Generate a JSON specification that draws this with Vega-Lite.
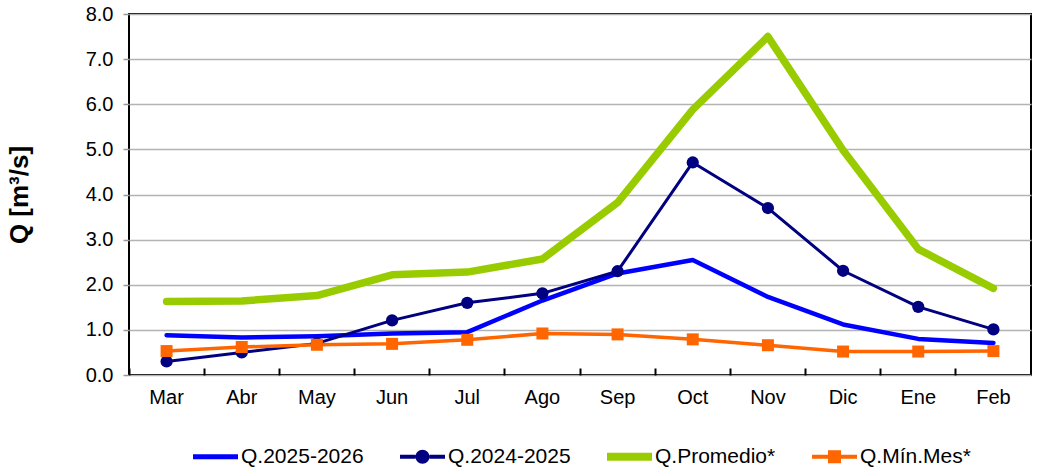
{
  "$schema": "https://vega.github.io/schema/vega-lite/v6.json",
  "width": 902,
  "height": 361,
  "autosize": {"type": "none"},
  "padding": {"left": 129, "top": 14, "right": 9, "bottom": 97},
  "background": "white",
  "config": {
    "font": "Liberation Sans",
    "view": {"stroke": "black", "strokeWidth": 2},
    "axis": {"labelFont": "Liberation Sans", "titleFont": "Liberation Sans", "labelColor": "black", "titleColor": "black"},
    "legend": {"labelFont": "Liberation Sans"}
  },
  "data": {
    "values": [
      {"mes": "Mar", "serie": "Q.2025-2026", "q": 0.88},
      {"mes": "Abr", "serie": "Q.2025-2026", "q": 0.83},
      {"mes": "May", "serie": "Q.2025-2026", "q": 0.86},
      {"mes": "Jun", "serie": "Q.2025-2026", "q": 0.92},
      {"mes": "Jul", "serie": "Q.2025-2026", "q": 0.95},
      {"mes": "Ago", "serie": "Q.2025-2026", "q": 1.65},
      {"mes": "Sep", "serie": "Q.2025-2026", "q": 2.25},
      {"mes": "Oct", "serie": "Q.2025-2026", "q": 2.55},
      {"mes": "Nov", "serie": "Q.2025-2026", "q": 1.73},
      {"mes": "Dic", "serie": "Q.2025-2026", "q": 1.12},
      {"mes": "Ene", "serie": "Q.2025-2026", "q": 0.80},
      {"mes": "Feb", "serie": "Q.2025-2026", "q": 0.71},
      {"mes": "Mar", "serie": "Q.2024-2025", "q": 0.30},
      {"mes": "Abr", "serie": "Q.2024-2025", "q": 0.50},
      {"mes": "May", "serie": "Q.2024-2025", "q": 0.70},
      {"mes": "Jun", "serie": "Q.2024-2025", "q": 1.21},
      {"mes": "Jul", "serie": "Q.2024-2025", "q": 1.60},
      {"mes": "Ago", "serie": "Q.2024-2025", "q": 1.81},
      {"mes": "Sep", "serie": "Q.2024-2025", "q": 2.30},
      {"mes": "Oct", "serie": "Q.2024-2025", "q": 4.71},
      {"mes": "Nov", "serie": "Q.2024-2025", "q": 3.70},
      {"mes": "Dic", "serie": "Q.2024-2025", "q": 2.31},
      {"mes": "Ene", "serie": "Q.2024-2025", "q": 1.51},
      {"mes": "Feb", "serie": "Q.2024-2025", "q": 1.01},
      {"mes": "Mar", "serie": "Q.Promedio*", "q": 1.63},
      {"mes": "Abr", "serie": "Q.Promedio*", "q": 1.64},
      {"mes": "May", "serie": "Q.Promedio*", "q": 1.76},
      {"mes": "Jun", "serie": "Q.Promedio*", "q": 2.22},
      {"mes": "Jul", "serie": "Q.Promedio*", "q": 2.28},
      {"mes": "Ago", "serie": "Q.Promedio*", "q": 2.57},
      {"mes": "Sep", "serie": "Q.Promedio*", "q": 3.82},
      {"mes": "Oct", "serie": "Q.Promedio*", "q": 5.88},
      {"mes": "Nov", "serie": "Q.Promedio*", "q": 7.50},
      {"mes": "Dic", "serie": "Q.Promedio*", "q": 4.98},
      {"mes": "Ene", "serie": "Q.Promedio*", "q": 2.79},
      {"mes": "Feb", "serie": "Q.Promedio*", "q": 1.92},
      {"mes": "Mar", "serie": "Q.Mín.Mes*", "q": 0.53},
      {"mes": "Abr", "serie": "Q.Mín.Mes*", "q": 0.62},
      {"mes": "May", "serie": "Q.Mín.Mes*", "q": 0.67},
      {"mes": "Jun", "serie": "Q.Mín.Mes*", "q": 0.69},
      {"mes": "Jul", "serie": "Q.Mín.Mes*", "q": 0.78},
      {"mes": "Ago", "serie": "Q.Mín.Mes*", "q": 0.92},
      {"mes": "Sep", "serie": "Q.Mín.Mes*", "q": 0.90},
      {"mes": "Oct", "serie": "Q.Mín.Mes*", "q": 0.79},
      {"mes": "Nov", "serie": "Q.Mín.Mes*", "q": 0.66},
      {"mes": "Dic", "serie": "Q.Mín.Mes*", "q": 0.52},
      {"mes": "Ene", "serie": "Q.Mín.Mes*", "q": 0.52},
      {"mes": "Feb", "serie": "Q.Mín.Mes*", "q": 0.53}
    ]
  },
  "encoding": {
    "x": {
      "field": "mes", "type": "nominal", "sort": null,
      "scale": {"type": "band", "domain": ["Mar","Abr","May","Jun","Jul","Ago","Sep","Oct","Nov","Dic","Ene","Feb"], "paddingInner": 0, "paddingOuter": 0},
      "axis": {"title": null, "labelAngle": 0, "labelFontSize": 20, "labelPadding": 19, "tickSize": -7, "tickColor": "black", "tickWidth": 2, "domain": false, "grid": false, "bandPosition": 0}
    },
    "y": {
      "field": "q", "type": "quantitative",
      "scale": {"domain": [0, 8], "nice": false},
      "axis": {"title": "Q [m³/s]", "titleFontSize": 26, "titleFontWeight": "bold", "titlePadding": 53, "values": [0,1,2,3,4,5,6,7,8], "format": ".1f", "labelFontSize": 20, "labelPadding": 10, "tickSize": 6, "tickColor": "#999999", "tickWidth": 1.5, "grid": true, "gridColor": "#b3b3b3", "gridWidth": 1.5, "domain": false}
    }
  },
  "layer": [
    {
      "transform": [{"filter": "datum.q < 0"}],
      "mark": {"type": "point", "filled": true},
      "encoding": {
        "color": {
          "field": "serie", "type": "nominal",
          "scale": {"domain": ["Q.2025-2026","Q.2024-2025","Q.Promedio*","Q.Mín.Mes*"], "range": ["#0000FF","#000080","#99CC00","#FF6600"]},
          "legend": {"title": null, "orient": "none", "legendX": 64, "legendY": 420, "direction": "horizontal", "columns": 4, "columnPadding": 36, "symbolSize": 2025, "symbolOpacity": 1, "symbolStrokeWidth": 0, "labelFontSize": 21, "labelOffset": 3, "labelColor": "black", "padding": 0,
            "encode": {"symbols": {"update": {"opacity": {"value": 1}, "size": {"value": 2025}}}}}
        },
        "shape": {
          "field": "serie", "type": "nominal",
          "scale": {"domain": ["Q.2025-2026","Q.2024-2025","Q.Promedio*","Q.Mín.Mes*"], "range": [
            "M-1,-0.11H1V0.11H-1Z",
            "M-1,-0.09H-0.31V0.09H-1Z M0.31,-0.09H1V0.09H0.31Z M-0.31,0A0.31,0.31 0 1,1 0.31,0A0.31,0.31 0 1,1 -0.31,0Z",
            "M-1,-0.18H1V0.18H-1Z",
            "M-1,-0.09H-0.29V0.09H-1Z M0.29,-0.09H1V0.09H0.29Z M-0.29,-0.29H0.29V0.29H-0.29Z"
          ]},
          "legend": {"title": null, "orient": "none", "legendX": 64, "legendY": 420, "direction": "horizontal", "columns": 4, "columnPadding": 36, "symbolSize": 2025, "symbolOpacity": 1, "symbolStrokeWidth": 0, "labelFontSize": 21, "labelOffset": 3, "labelColor": "black", "padding": 0,
            "encode": {"symbols": {"update": {"opacity": {"value": 1}, "size": {"value": 2025}}}}}
        }
      }
    },
    {
      "transform": [{"filter": "datum.serie === 'Q.Promedio*'"}],
      "mark": {"type": "line", "color": "#99CC00", "strokeWidth": 7.5, "strokeCap": "round", "strokeJoin": "round"}
    },
    {
      "transform": [{"filter": "datum.serie === 'Q.2025-2026'"}],
      "mark": {"type": "line", "color": "#0000FF", "strokeWidth": 4.5, "strokeCap": "round", "strokeJoin": "round"}
    },
    {
      "transform": [{"filter": "datum.serie === 'Q.2024-2025'"}],
      "mark": {"type": "line", "color": "#000080", "strokeWidth": 3, "strokeJoin": "round"}
    },
    {
      "transform": [{"filter": "datum.serie === 'Q.Mín.Mes*'"}],
      "mark": {"type": "line", "color": "#FF6600", "strokeWidth": 3.5, "strokeJoin": "round"}
    },
    {
      "transform": [{"filter": "datum.serie === 'Q.2024-2025'"}],
      "mark": {"type": "point", "shape": "circle", "filled": true, "opacity": 1, "size": 150, "color": "#000080"}
    },
    {
      "transform": [{"filter": "datum.serie === 'Q.Mín.Mes*'"}],
      "mark": {"type": "point", "shape": "square", "filled": true, "opacity": 1, "size": 144, "color": "#FF6600"}
    }
  ]
}
